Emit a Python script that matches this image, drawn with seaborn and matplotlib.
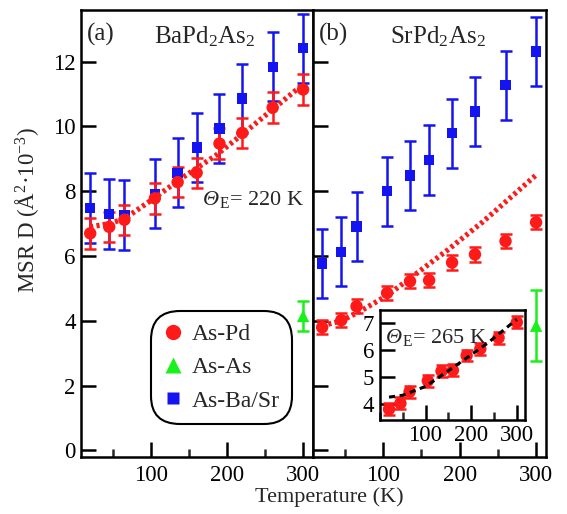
import matplotlib
matplotlib.use("Agg")
import matplotlib.pyplot as plt
import seaborn as sns
import pandas as pd
from matplotlib.lines import Line2D
from matplotlib.ticker import MultipleLocator

# Measured temperatures (K)
temps = [20, 45, 65, 105, 135, 160, 190, 220, 260, 300]

# (a) BaPd2As2
ba_as_pd = [6.70, 6.90, 7.12, 7.78, 8.28, 8.57, 9.47, 9.80, 10.58, 11.14]
ba_as_pd_err = [0.47, 0.47, 0.47, 0.47, 0.47, 0.47, 0.47, 0.47, 0.47, 0.47]
ba_as_ba = [7.48, 7.30, 7.27, 7.92, 8.57, 9.35, 9.94, 10.86, 11.84, 12.41]
ba_as_ba_err = [1.07, 1.07, 1.07, 1.07, 1.07, 1.07, 1.07, 1.07, 1.07, 1.07]
ba_as_as_t = [300]
ba_as_as = [4.15]
ba_as_as_err = [0.45]
fit_a_t = [20, 45, 65, 105, 140, 185, 225, 300]
fit_a = [6.90, 7.00, 7.15, 7.80, 8.40, 9.10, 9.85, 11.30]

# (b) SrPd2As2
sr_as_pd = [3.80, 4.02, 4.45, 4.86, 5.22, 5.25, 5.80, 6.05, 6.46, 7.04]
sr_as_pd_err = [0.22, 0.22, 0.22, 0.22, 0.22, 0.22, 0.22, 0.22, 0.22, 0.22]
sr_as_sr = [5.77, 6.13, 6.91, 8.00, 8.49, 8.96, 9.79, 10.46, 11.27, 12.31]
sr_as_sr_err = [1.07, 1.07, 1.07, 1.07, 1.07, 1.07, 1.07, 1.07, 1.07, 1.07]
sr_as_as_t = [300]
sr_as_as = [3.85]
sr_as_as_err = [1.09]
fit_b_t = [20, 45, 70, 105, 140, 185, 230, 300]
fit_b = [3.85, 4.00, 4.30, 4.78, 5.40, 6.20, 7.05, 8.50]

# inset fit for SrPd2As2
inset_fit_t = [20, 50, 100, 160, 235, 300]
inset_fit = [4.25, 4.32, 4.65, 5.35, 6.25, 7.15]

RED = '#FF1A1A'
BLUE = '#1414F0'
GREEN = '#1AF01A'

sns.set_theme(style="ticks")
plt.rcParams['font.family'] = ['Liberation Serif', 'DejaVu Serif']
plt.rcParams['mathtext.fontset'] = 'custom'
plt.rcParams['mathtext.rm'] = 'Liberation Serif'
plt.rcParams['mathtext.it'] = 'Liberation Serif:italic'
plt.rcParams['axes.linewidth'] = 1.8

fig = plt.figure(figsize=(5.67, 5.14), dpi=100)
ax1 = fig.add_axes([0.143, 0.111, 0.409, 0.870])
ax2 = fig.add_axes([0.552, 0.111, 0.411, 0.870])


def draw_series(ax, t, y, err, color, marker, size, lw=1.8):
    ax.errorbar(t, y, yerr=err, fmt='none', ecolor=color, elinewidth=lw,
                capsize=4, capthick=lw, zorder=2)
    sns.scatterplot(x=t, y=y, ax=ax, color=color, marker=marker, s=size,
                    edgecolor='none', linewidth=0, zorder=3, legend=False)


def style_axis(ax, labels=True):
    ax.set_xlim(8, 313)
    ax.set_ylim(-0.2, 13.6)
    ax.xaxis.set_major_locator(MultipleLocator(100))
    ax.xaxis.set_minor_locator(MultipleLocator(50))
    ax.yaxis.set_major_locator(MultipleLocator(2))
    ax.tick_params(axis='both', which='major', direction='in', length=11, width=1.8,
                   labelsize=16.5, colors='black')
    ax.tick_params(axis='x', which='minor', direction='in', length=6, width=1.8)
    ax.tick_params(axis='x', which='major', pad=6)
    ax.tick_params(axis='y', which='major', pad=4, labelleft=labels)
    ax.set_xticks([100, 200, 300])
    ax.set_xlabel('')
    ax.set_ylabel('')
    for s in ax.spines.values():
        s.set_color('black')
        s.set_linewidth(1.8)


def theta_label(ax, x, y, value, transform):
    # italic Theta followed by roman subscript E and the value
    ax.text(x, y, 'Θ', transform=transform, fontsize=16, style='italic', va='baseline')
    ax.annotate(r'$_\mathrm{E}$= ' + value, xy=(x, y), xycoords=transform,
                xytext=(11.5, 0), textcoords='offset points', fontsize=16, va='baseline')


# ---- panel (a)
sns.lineplot(x=fit_a_t, y=fit_a, ax=ax1, color=RED, linewidth=3.8,
             linestyle=(0, (0.6, 0.6)), zorder=4)
draw_series(ax1, temps, ba_as_ba, ba_as_ba_err, BLUE, 's', 55)
draw_series(ax1, temps, ba_as_pd, ba_as_pd_err, RED, 'o', 80)
draw_series(ax1, ba_as_as_t, ba_as_as, ba_as_as_err, GREEN, '^', 80)
style_axis(ax1)
ax1.text(0.025, 0.945, '(a)', transform=ax1.transAxes, fontsize=18, va='center')
ax1.text(0.315, 0.94, r'BaPd$_2$As$_2$', transform=ax1.transAxes, fontsize=18, va='center')
theta_label(ax1, 168, 7.57, '220 K', ax1.transData)

handles = [
    Line2D([0], [0], marker='o', color='none', markerfacecolor=RED, markeredgecolor='none',
           markersize=11, label='As-Pd'),
    Line2D([0], [0], marker='^', color='none', markerfacecolor=GREEN, markeredgecolor='none',
           markersize=11, label='As-As'),
    Line2D([0], [0], marker='s', color='none', markerfacecolor=BLUE, markeredgecolor='none',
           markersize=8, label='As-Ba/Sr'),
]
leg = ax1.legend(handles=handles, loc='lower left', bbox_to_anchor=(0.315, 0.08),
                 fontsize=17, frameon=True, fancybox=True, framealpha=1,
                 handlelength=0.8, handletextpad=0.4, labelspacing=0.5,
                 borderpad=0.4, borderaxespad=0)
leg.get_frame().set_edgecolor('black')
leg.get_frame().set_linewidth(1.5)
leg.get_frame().set_boxstyle('round,pad=0.12,rounding_size=1.2')

# ---- panel (b)
sns.lineplot(x=fit_b_t, y=fit_b, ax=ax2, color=RED, linewidth=3.8,
             linestyle=(0, (0.6, 0.6)), zorder=4)
draw_series(ax2, temps, sr_as_sr, sr_as_sr_err, BLUE, 's', 55)
draw_series(ax2, temps, sr_as_pd, sr_as_pd_err, RED, 'o', 80)
draw_series(ax2, sr_as_as_t, sr_as_as, sr_as_as_err, GREEN, '^', 80)
style_axis(ax2, labels=False)
ax2.text(0.025, 0.945, '(b)', transform=ax2.transAxes, fontsize=18, va='center')
ax2.text(0.33, 0.94, r'SrPd$_2$As$_2$', transform=ax2.transAxes, fontsize=18, va='center')

# ---- inset
axi = fig.add_axes([0.670, 0.183, 0.256, 0.214])
axi.set_facecolor('white')
sns.lineplot(x=inset_fit_t, y=inset_fit, ax=axi, color='black', linewidth=2.2,
             linestyle=(0, (2, 1.5)), zorder=4)
draw_series(axi, temps, sr_as_pd, sr_as_pd_err, RED, 'o', 80)
axi.set_xlim(0, 318)
axi.set_ylim(3.4, 7.5)
axi.set_xticks([100, 200, 300])
axi.xaxis.set_minor_locator(MultipleLocator(50))
axi.yaxis.set_major_locator(MultipleLocator(1))
axi.tick_params(axis='both', which='major', direction='in', length=11, width=1.8,
                labelsize=16.5, colors='black', pad=4)
axi.tick_params(axis='x', which='minor', direction='in', length=6, width=1.8)
axi.set_xlabel('')
axi.set_ylabel('')
for s in axi.spines.values():
    s.set_color('black')
    s.set_linewidth(1.8)
theta_label(axi, 0.04, 0.70, '265 K', axi.transAxes)

fig.text(0.048, 0.591, r'MSR D (Å$^2$·10$^{-3}$)', rotation=90, fontsize=16.5,
         ha='center', va='center')
fig.text(0.58, 0.033, 'Temperature (K)', fontsize=16, ha='center', va='center')

fig.savefig('out.png', dpi=100, facecolor='white')
